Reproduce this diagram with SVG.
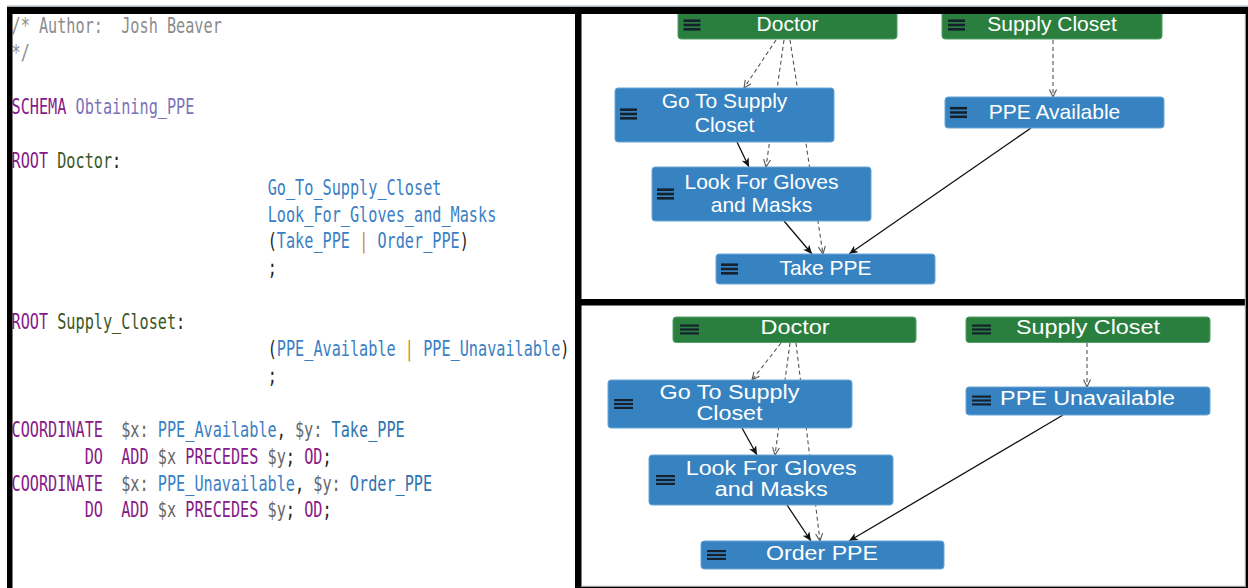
<svg xmlns="http://www.w3.org/2000/svg" width="1248" height="588" viewBox="0 0 1248 588">
<style>
.code{font-family:"DejaVu Sans Mono","Liberation Mono",monospace;font-size:20.5px;white-space:pre}
.cm{fill:#8c8c8c}.kw{fill:#861a88}.sc{fill:#7b73b8}.rt{fill:#3a571f}.id{fill:#3b80c4}.id2{fill:#2f74ae}.pn{fill:#222}.vr{fill:#666}.or{fill:#d08a10}
.g{fill:#2a7f3f;stroke:#55a069;stroke-width:1}
.b{fill:#3783c1;stroke:#6aa5d6;stroke-width:1}
.t{font-family:"Liberation Sans",Arial,sans-serif;font-size:21px;fill:#fff;text-anchor:middle}
.t2{font-family:"Liberation Sans",Arial,sans-serif;font-size:19.5px;fill:#fff;text-anchor:middle}
.ic{fill:#15222d}
.dash{stroke:#555;stroke-width:1.1;stroke-dasharray:4 3;fill:none;marker-end:url(#ao)}
.sol{stroke:#111;stroke-width:1.3;fill:none;marker-end:url(#as)}
.frm{fill:#000}
</style>
<defs>
<marker id="as" markerUnits="userSpaceOnUse" markerWidth="10" markerHeight="8" refX="9" refY="4" orient="auto"><path d="M0,0 L9,4 L0,8 L2.5,4 z" fill="#111"/></marker>
<marker id="ao" markerUnits="userSpaceOnUse" markerWidth="10" markerHeight="9" refX="8" refY="4" orient="auto"><path d="M0.5,0.5 L8,4 L0.5,7.5" fill="none" stroke="#555" stroke-width="1.1"/></marker>
<g id="ham"><rect x="0" y="-5.6" width="17" height="2.6"/><rect x="0" y="-1.3" width="17" height="2.6"/><rect x="0" y="3" width="17" height="2.6"/></g>
<g id="ham2"><rect x="0" y="-5" width="19" height="2.2"/><rect x="0" y="-1.1" width="19" height="2.2"/><rect x="0" y="2.8" width="19" height="2.2"/></g>
</defs>
<rect width="1248" height="588" fill="#fff"/>

<g id="code" class="code" transform="scale(0.7415 1)">
<text x="15.5" y="33.3" class="cm" xml:space="preserve">/* Author:  Josh Beaver</text>
<text x="15.5" y="60.2" class="cm">*/</text>
<text x="15.5" y="114" xml:space="preserve"><tspan class="kw">SCHEMA</tspan><tspan class="sc"> Obtaining_PPE</tspan></text>
<text x="15.5" y="167.8" xml:space="preserve"><tspan class="kw">ROOT</tspan><tspan class="rt"> Doctor</tspan><tspan class="pn">:</tspan></text>
<text x="361" y="194.7" class="id">Go_To_Supply_Closet</text>
<text x="361" y="221.6" class="id">Look_For_Gloves_and_Masks</text>
<text x="361" y="248.5" xml:space="preserve"><tspan class="pn">(</tspan><tspan class="id">Take_PPE</tspan> <tspan class="or">|</tspan> <tspan class="id">Order_PPE</tspan><tspan class="pn">)</tspan></text>
<text x="361" y="275.4" class="pn">;</text>
<text x="15.5" y="329.2" xml:space="preserve"><tspan class="kw">ROOT</tspan><tspan class="rt"> Supply_Closet</tspan><tspan class="pn">:</tspan></text>
<text x="361" y="356.1" xml:space="preserve"><tspan class="pn">(</tspan><tspan class="id">PPE_Available</tspan> <tspan class="or">|</tspan> <tspan class="id">PPE_Unavailable</tspan><tspan class="pn">)</tspan></text>
<text x="361" y="383" class="pn">;</text>
<text x="15.5" y="436.8" xml:space="preserve"><tspan class="kw">COORDINATE</tspan><tspan class="vr">  $x:</tspan><tspan class="id"> PPE_Available</tspan><tspan class="pn">,</tspan><tspan class="vr"> $y:</tspan><tspan class="id2"> Take_PPE</tspan></text>
<text x="15.5" y="463.7" xml:space="preserve"><tspan class="kw">        DO  ADD</tspan><tspan class="vr"> $x</tspan><tspan class="kw"> PRECEDES</tspan><tspan class="vr"> $y</tspan><tspan class="pn">;</tspan><tspan class="kw"> OD</tspan><tspan class="pn">;</tspan></text>
<text x="15.5" y="490.6" xml:space="preserve"><tspan class="kw">COORDINATE</tspan><tspan class="vr">  $x:</tspan><tspan class="id"> PPE_Unavailable</tspan><tspan class="pn">,</tspan><tspan class="vr"> $y:</tspan><tspan class="id2"> Order_PPE</tspan></text>
<text x="15.5" y="517.5" xml:space="preserve"><tspan class="kw">        DO  ADD</tspan><tspan class="vr"> $x</tspan><tspan class="kw"> PRECEDES</tspan><tspan class="vr"> $y</tspan><tspan class="pn">;</tspan><tspan class="kw"> OD</tspan><tspan class="pn">;</tspan></text>
</g>

<g id="connectors">
<line class="dash" x1="776" y1="40" x2="744" y2="88"/>
<line class="dash" x1="784" y1="40" x2="766" y2="167"/>
<line class="dash" x1="790" y1="40" x2="823" y2="254"/>
<line class="sol" x1="737" y1="142" x2="749" y2="167"/>
<line class="sol" x1="784" y1="221" x2="812" y2="254"/>
<line class="dash" x1="1053" y1="40" x2="1053" y2="97"/>
<line class="sol" x1="1031" y1="128" x2="849" y2="254"/>
<line class="dash" x1="781" y1="343" x2="752" y2="380"/>
<line class="dash" x1="790" y1="343" x2="775" y2="455"/>
<line class="dash" x1="796" y1="343" x2="820" y2="541"/>
<line class="sol" x1="742" y1="428" x2="757" y2="455"/>
<line class="sol" x1="787" y1="505" x2="811" y2="541"/>
<line class="dash" x1="1087" y1="343" x2="1087" y2="387"/>
<line class="sol" x1="1063" y1="415" x2="849" y2="541"/>
</g>

<g id="top-doctor"><rect class="g" x="678" y="8" width="219" height="31" rx="3"/><use href="#ham" class="ic" x="683.5" y="25"/><text class="t" x="787.5" y="31">Doctor</text></g>
<g id="top-supply-closet"><rect class="g" x="942" y="8" width="220" height="31" rx="3"/><use href="#ham" class="ic" x="948" y="25"/><text class="t" x="1052" y="31">Supply Closet</text></g>
<g id="top-go-to"><rect class="b" x="615" y="88" width="219" height="54" rx="3"/><use href="#ham" class="ic" x="620" y="114"/><text class="t" x="724.5" y="108.3">Go To Supply</text><text class="t" x="724.5" y="132">Closet</text></g>
<g id="top-ppe-available"><rect class="b" x="945" y="97" width="219" height="31" rx="3"/><use href="#ham" class="ic" x="950" y="112.5"/><text class="t" x="1054.5" y="118.5">PPE Available</text></g>
<g id="top-look-for"><rect class="b" x="652" y="167" width="219" height="54" rx="3"/><use href="#ham" class="ic" x="657" y="194"/><text class="t" x="761.5" y="189">Look For Gloves</text><text class="t" x="761.5" y="212.3">and Masks</text></g>
<g id="top-take-ppe"><rect class="b" x="716" y="254" width="219" height="30" rx="3"/><use href="#ham" class="ic" x="721" y="269"/><text class="t" x="825.5" y="275">Take PPE</text></g>

<g id="bot-doctor"><rect class="g" x="673" y="317" width="243" height="25.5" rx="3"/><use href="#ham2" class="ic" x="680" y="329.5"/><text class="t2" x="795" y="334.3" textLength="69" lengthAdjust="spacingAndGlyphs">Doctor</text></g>
<g id="bot-supply-closet"><rect class="g" x="966" y="317" width="244" height="25.5" rx="3"/><use href="#ham2" class="ic" x="972" y="329.5"/><text class="t2" x="1088" y="334.3" textLength="144" lengthAdjust="spacingAndGlyphs">Supply Closet</text></g>
<g id="bot-go-to"><rect class="b" x="608" y="380" width="244" height="48" rx="3"/><use href="#ham2" class="ic" x="614" y="404"/><text class="t2" x="729.5" y="399" textLength="140" lengthAdjust="spacingAndGlyphs">Go To Supply</text><text class="t2" x="729.5" y="420" textLength="66" lengthAdjust="spacingAndGlyphs">Closet</text></g>
<g id="bot-ppe-unavailable"><rect class="b" x="966" y="387" width="244" height="28" rx="3"/><use href="#ham2" class="ic" x="972" y="400.5"/><text class="t2" x="1087.6" y="405" textLength="175" lengthAdjust="spacingAndGlyphs">PPE Unavailable</text></g>
<g id="bot-look-for"><rect class="b" x="649" y="455" width="244" height="50" rx="3"/><use href="#ham2" class="ic" x="656" y="480"/><text class="t2" x="771.2" y="475" textLength="171" lengthAdjust="spacingAndGlyphs">Look For Gloves</text><text class="t2" x="771.2" y="495.5" textLength="113" lengthAdjust="spacingAndGlyphs">and Masks</text></g>
<g id="bot-order-ppe"><rect class="b" x="701" y="541" width="243" height="28" rx="3"/><use href="#ham2" class="ic" x="707" y="555"/><text class="t2" x="822" y="560" textLength="112" lengthAdjust="spacingAndGlyphs">Order PPE</text></g>

<g id="frame">
<rect x="7" y="5.5" width="1241" height="1.5" fill="#a9b0bd"/>
<rect class="frm" x="7" y="7" width="1241" height="7"/>
<rect class="frm" x="7" y="7" width="5.5" height="581"/>
<rect class="frm" x="575" y="7" width="6.5" height="581"/>
<rect class="frm" x="575" y="299" width="673" height="6.5"/>
<rect x="1244.8" y="14" width="1.2" height="574" fill="#9a9a9a"/>
<rect class="frm" x="1246" y="7" width="2" height="581"/>
<rect x="581" y="585.8" width="665" height="1.2" fill="#9a9a9a"/>
<rect class="frm" x="581" y="587" width="667" height="1"/>
</g>
</svg>
